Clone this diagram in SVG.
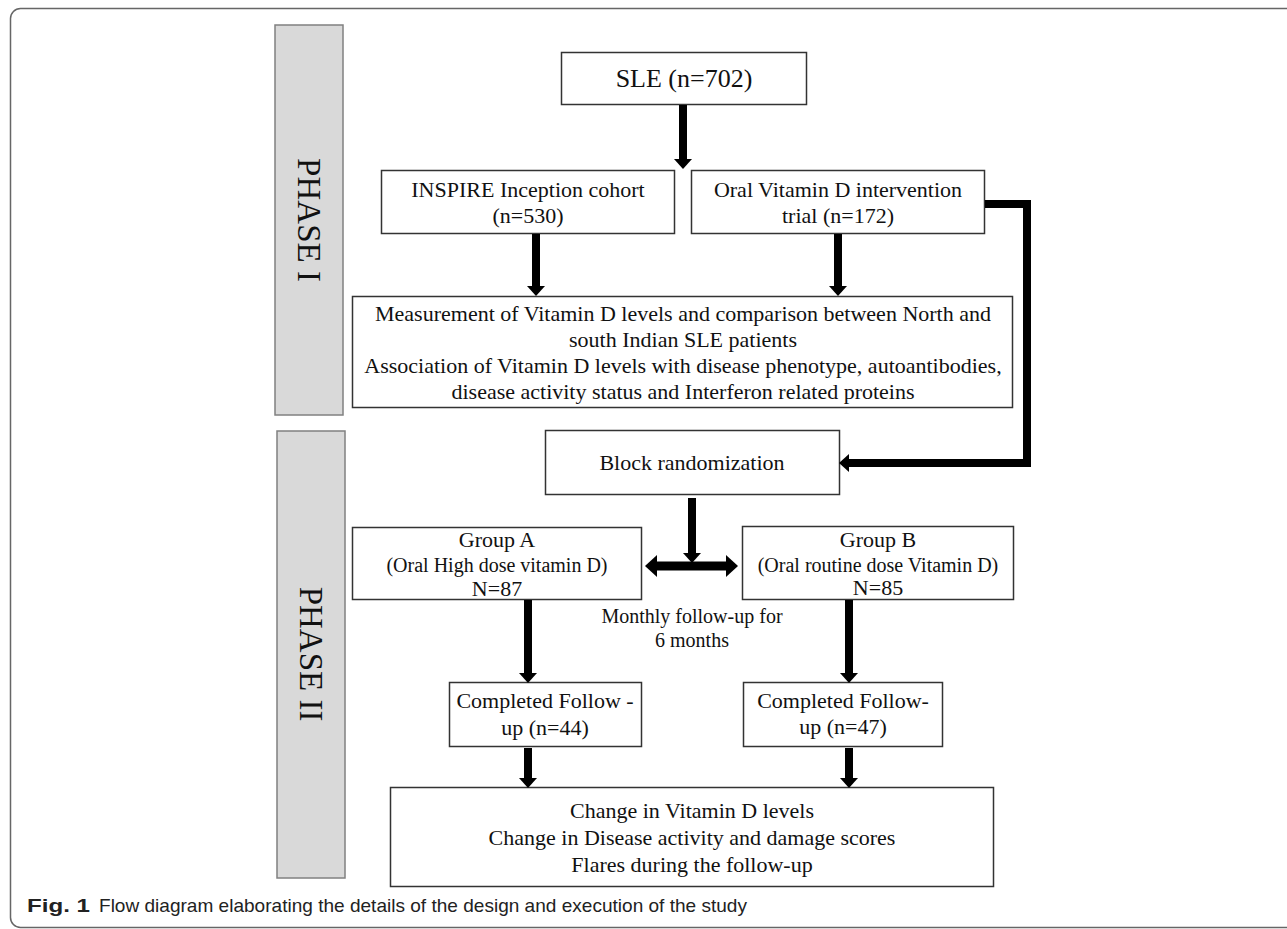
<svg xmlns="http://www.w3.org/2000/svg" width="1287" height="929" viewBox="0 0 1287 929">
<style>
.box{fill:#fff;stroke:#333;stroke-width:1.5}
.phase{fill:#d9d9d9;stroke:#808080;stroke-width:1.5}
.t{font-family:"Liberation Serif","DejaVu Serif",serif;fill:#111;text-anchor:middle}
.f22{font-size:22px}
.f20{font-size:20px}
.ph{font-size:33px}
.conn{stroke:#000;stroke-width:8;fill:none}
.cap{font-family:"Liberation Sans","Open Sans",sans-serif;font-size:19px;fill:#222}
</style>
<defs>
<marker id="ah" markerUnits="userSpaceOnUse" markerWidth="10" markerHeight="18" viewBox="0 0 10 18" refX="0" refY="9" orient="auto">
<path d="M0,0 L10,9 L0,18 Z" fill="#000"/>
</marker>
<marker id="ah2" markerUnits="userSpaceOnUse" markerWidth="12" markerHeight="22" viewBox="0 0 12 22" refX="0" refY="11" orient="auto-start-reverse">
<path d="M0,0 L12,11 L0,22 Z" fill="#000"/>
</marker>
</defs>
<rect x="10.5" y="8.5" width="1300" height="919" rx="10" fill="none" stroke="#666" stroke-width="1.5"/>

<g id="phase1">
<rect class="phase" x="275" y="25" width="68" height="390"/>
<text class="t ph" transform="translate(309,220) rotate(90)" dy="11">PHASE I</text>
</g>
<g id="phase2">
<rect class="phase" x="277" y="431" width="68" height="447"/>
<text class="t ph" transform="translate(311,654) rotate(90)" dy="11">PHASE II</text>
</g>

<g id="sle">
<rect class="box" x="561.5" y="52.5" width="245" height="52"/>
<text class="t" style="font-size:26px" x="684" y="87">SLE (n=702)</text>
</g>
<g id="inspire">
<rect class="box" x="381.5" y="170.5" width="293" height="63"/>
<text class="t f22" x="528" y="197">INSPIRE Inception cohort</text>
<text class="t f22" x="528" y="223">(n=530)</text>
</g>
<g id="oral">
<rect class="box" x="691.5" y="170.5" width="293" height="63"/>
<text class="t f22" x="838" y="197">Oral Vitamin D intervention</text>
<text class="t f22" x="838" y="223">trial (n=172)</text>
</g>
<g id="measurement">
<rect class="box" x="352.5" y="296.5" width="660" height="111"/>
<text class="t f22" x="683" y="321">Measurement of Vitamin D levels and comparison between North and</text>
<text class="t f22" x="683" y="347">south Indian SLE patients</text>
<text class="t f22" x="683" y="373">Association of Vitamin D levels with disease phenotype, autoantibodies,</text>
<text class="t f22" x="683" y="399">disease activity status and Interferon related proteins</text>
</g>
<g id="block">
<rect class="box" x="545.5" y="430.5" width="294" height="64"/>
<text class="t f22" x="692" y="470">Block randomization</text>
</g>
<g id="groupA">
<rect class="box" x="352.5" y="527.5" width="289" height="72"/>
<text class="t f22" x="497" y="547">Group A</text>
<text class="t f20" x="497" y="572">(Oral High dose vitamin D)</text>
<text class="t f22" x="497" y="596">N=87</text>
</g>
<g id="groupB">
<rect class="box" x="742.5" y="526.5" width="271" height="73"/>
<text class="t f22" x="878" y="547">Group B</text>
<text class="t f20" x="878" y="572">(Oral routine dose Vitamin D)</text>
<text class="t f22" x="878" y="595">N=85</text>
</g>
<g id="followup-label">
<text class="t f20" x="692" y="623">Monthly follow-up for</text>
<text class="t f20" x="692" y="647">6 months</text>
</g>
<g id="completedA">
<rect class="box" x="449.5" y="682.5" width="192" height="64"/>
<text class="t f22" x="545" y="708">Completed Follow -</text>
<text class="t f22" x="545" y="735">up (n=44)</text>
</g>
<g id="completedB">
<rect class="box" x="743.5" y="682.5" width="199" height="64"/>
<text class="t f22" x="843" y="708">Completed Follow-</text>
<text class="t f22" x="843" y="734">up (n=47)</text>
</g>
<g id="outcomes">
<rect class="box" x="390.5" y="787.5" width="603" height="99"/>
<text class="t f22" x="692" y="818">Change in Vitamin D levels</text>
<text class="t f22" x="692" y="845">Change in Disease activity and damage scores</text>
<text class="t f22" x="692" y="872">Flares during the follow-up</text>
</g>

<g id="connectors">
<line class="conn" x1="683" y1="105" x2="683" y2="159" marker-end="url(#ah)"/>
<line class="conn" x1="536" y1="234" x2="536" y2="286" marker-end="url(#ah)"/>
<line class="conn" x1="838" y1="234" x2="838" y2="286" marker-end="url(#ah)"/>
<path class="conn" d="M985,204 H1027 V463 H849" marker-end="url(#ah)"/>
<line class="conn" x1="692" y1="498" x2="692" y2="553" marker-end="url(#ah)"/>
<line class="conn" style="stroke-width:9" x1="657" y1="566" x2="726" y2="566" marker-start="url(#ah2)" marker-end="url(#ah2)"/>
<line class="conn" x1="528" y1="600" x2="528" y2="673" marker-end="url(#ah)"/>
<line class="conn" x1="849" y1="600" x2="849" y2="673" marker-end="url(#ah)"/>
<line class="conn" x1="528" y1="748" x2="528" y2="778" marker-end="url(#ah)"/>
<line class="conn" x1="849" y1="748" x2="849" y2="778" marker-end="url(#ah)"/>
</g>

<text class="cap" x="27" y="912"><tspan font-weight="bold" textLength="63" lengthAdjust="spacingAndGlyphs">Fig. 1</tspan><tspan x="99" textLength="648" lengthAdjust="spacingAndGlyphs">Flow diagram elaborating the details of the design and execution of the study</tspan></text>
</svg>
